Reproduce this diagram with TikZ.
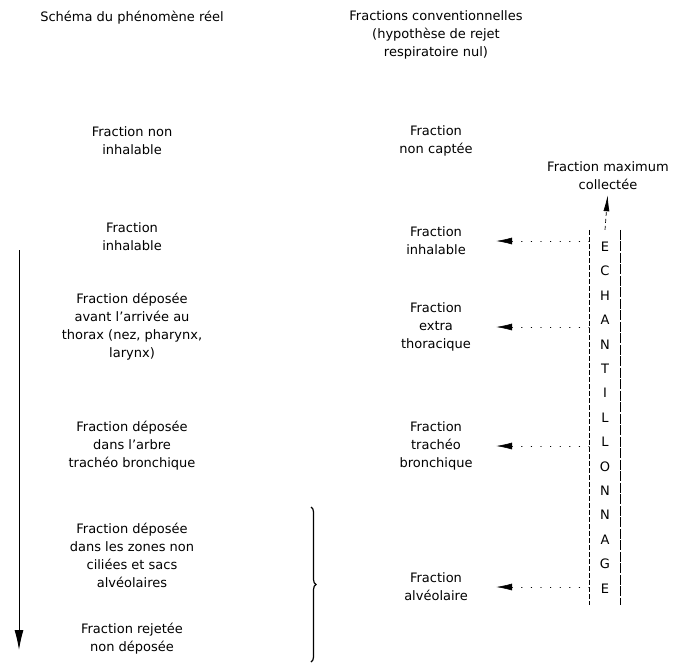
\documentclass[tikz,border=0pt]{standalone}
\usepackage{fontspec}
\setmainfont{DejaVu Sans}
\usepackage{tikz}
\usetikzlibrary{arrows.meta}
\usetikzlibrary{decorations.pathreplacing}

\begin{document}
\begin{tikzpicture}[x=1pt,y=-1pt,
    font=\fontsize{13}{18}\selectfont,
    reeln/.style={align=center,inner sep=0pt},
    convn/.style={align=center,inner sep=0pt,text width=110pt},
    echn/.style={align=center,inner sep=0pt,minimum width=31pt,minimum height=375pt,
      font=\fontsize{13}{24.4}\selectfont},
    fetch/.style={line width=0.6pt,line cap=round,dash pattern=on 0.6pt off 9pt,
      -{Latex[length=16pt,width=7pt]},shorten >=5pt}]
  \useasboundingbox (0,0) rectangle (684,662);
  \node[reeln] (titreel) at (132,18) {Schéma du phénomène réel};
  \node[reeln] (titconv) at (436,35) {Fractions conventionnelles\\(hypothèse de rejet\\respiratoire nul)};
  \node[reeln] (reel1) at (132,141) {Fraction non\\inhalable};
  \node[reeln] (reel2) at (132,237) {Fraction\\inhalable};
  \node[reeln] (reel3) at (132,327) {Fraction déposée\\avant l'arrivée au\\thorax (nez, pharynx,\\larynx)};
  \node[reeln] (reel4) at (132,446) {Fraction déposée\\dans l'arbre\\trachéo bronchique};
  \node[reeln] (reel5) at (132,555) {Fraction déposée\\dans les zones non\\ciliées et sacs\\alvéolaires};
  \node[reeln] (reel6) at (132,639) {Fraction rejetée\\non déposée};
  \node[convn] (conv1) at (436,141) {Fraction\\non captée};
  \node[convn] (conv2) at (436,241) {Fraction\\inhalable};
  \node[convn] (conv3) at (436,327) {Fraction\\extra\\thoracique};
  \node[convn] (conv4) at (436,446) {Fraction\\trachéo\\bronchique};
  \node[convn] (conv5) at (436,587) {Fraction\\alvéolaire};
  \node[reeln] (maxc) at (608,176) {Fraction maximum\\collectée};
  \node[echn] (ech) at (605,417.5) {E\\C\\H\\A\\N\\T\\I\\L\\L\\O\\N\\N\\A\\G\\E};
  \draw[line width=0.7pt,dash pattern=on 5pt off 2pt] (ech.north west) -- (ech.south west);
  \draw[line width=0.7pt,dash pattern=on 10pt off 1.5pt] (ech.north east) -- (ech.south east);
  \draw[line width=0.7pt,dash pattern=on 4pt off 3pt,-{Latex[length=16pt,width=6pt]},shorten >=5pt] (ech.north) -- (maxc.south);
  \draw[fetch] (ech.west |- conv2) -- (conv2.east);
  \draw[fetch] (ech.west |- conv3) -- (conv3.east);
  \draw[fetch] (ech.west |- conv4) -- (conv4.east);
  \draw[fetch] (ech.west |- conv5) -- (conv5.east);
  \coordinate (dtop) at (19,250);
  \coordinate (dbot) at (19,650);
  \draw[line width=1pt,-{Latex[length=20pt,width=9pt]}] (dtop) -- (dbot);
  \coordinate (btop) at (311,507);
  \coordinate (bbot) at (311,662);
  \draw[line width=1.2pt,decorate,decoration={brace,amplitude=5pt}] (btop) -- (bbot);
\end{tikzpicture}
\end{document}
